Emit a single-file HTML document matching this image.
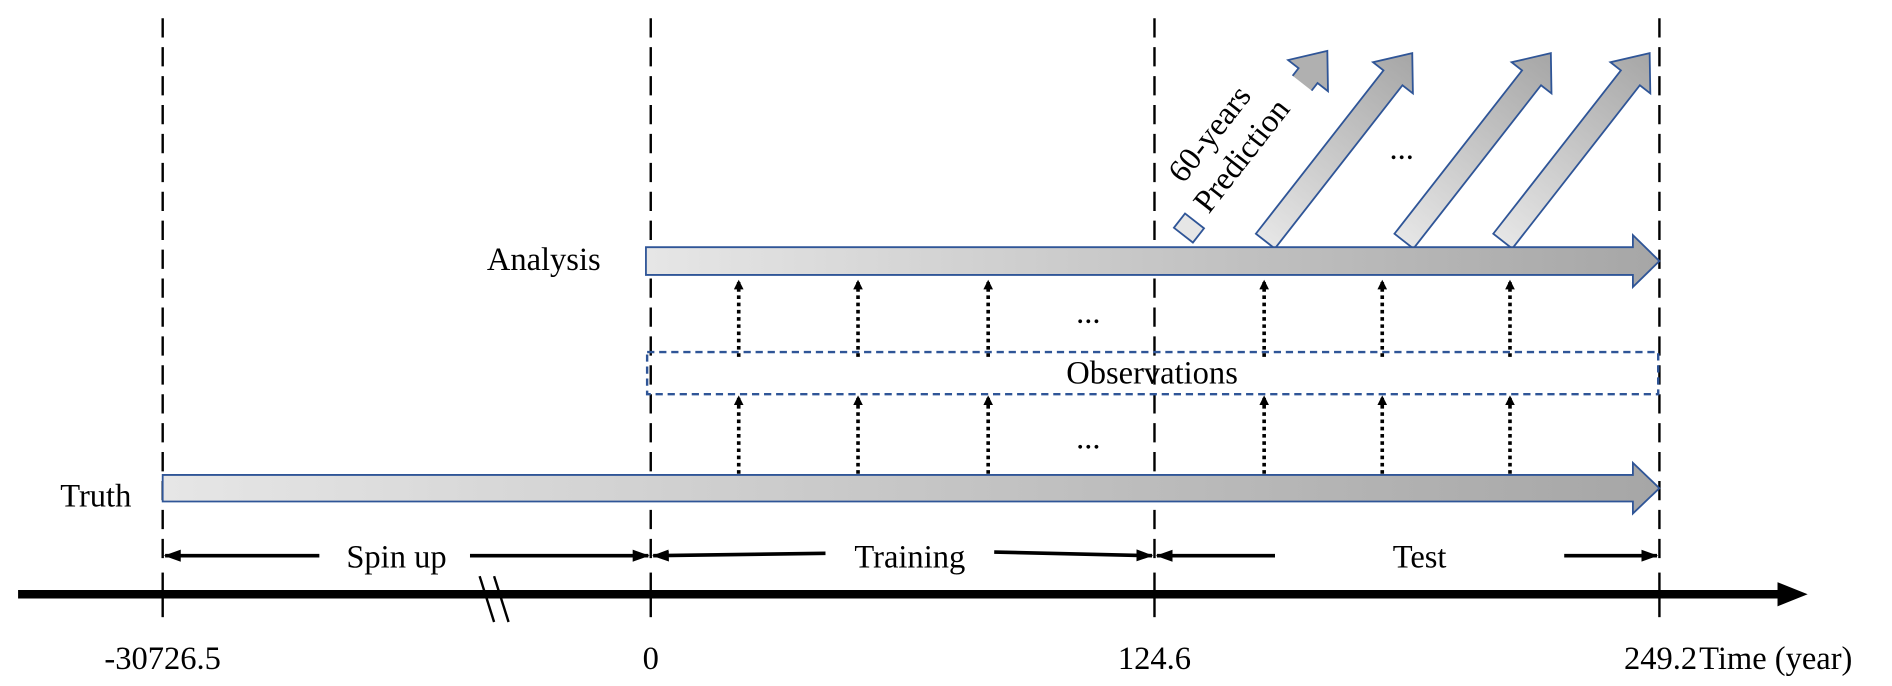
<!DOCTYPE html>
<html><head><style>html,body{margin:0;padding:0;background:#fff}svg{display:block}</style></head>
<body>
<svg width="1892" height="686" viewBox="0 0 1570 569" xmlns="http://www.w3.org/2000/svg" font-family="Liberation Serif, serif">
<defs>
<linearGradient id="g" x1="0" x2="1" y1="0" y2="0"><stop offset="0" stop-color="#e6e6e6"/><stop offset="1" stop-color="#a6a6a6"/></linearGradient>
<marker id="ah" markerWidth="8" markerHeight="8" refX="6" refY="4" orient="auto" markerUnits="userSpaceOnUse"><path d="M0,0 L8,4 L0,8 Z" fill="#000"/></marker>
<marker id="dm" markerWidth="14" markerHeight="12" refX="13" refY="6" orient="auto-start-reverse" markerUnits="userSpaceOnUse"><path d="M0,1 L14,6 L0,11 Z" fill="#000"/></marker>
</defs>
<g stroke="#000" stroke-width="2" stroke-dasharray="16,8">
<line x1="135" y1="15" x2="135" y2="470"/><line x1="540" y1="15" x2="540" y2="470"/>
<line x1="958" y1="15" x2="958" y2="470"/><line x1="1377" y1="15" x2="1377" y2="470"/>
</g>
<g stroke="#2f5597" stroke-width="1.5" fill="url(#g)">
<g transform="translate(1050,200) rotate(-52)"><path d="M0,-10 L172,-10 L172,-21 L198,0 L172,21 L172,10 L0,10 Z"/></g>
<g transform="translate(1165,200) rotate(-52)"><path d="M0,-10 L172,-10 L172,-21 L198,0 L172,21 L172,10 L0,10 Z"/></g>
<g transform="translate(1247,200) rotate(-52)"><path d="M0,-10 L172,-10 L172,-21 L198,0 L172,21 L172,10 L0,10 Z"/></g>
<g transform="translate(982,195) rotate(-52)"><path d="M0,-10 L15,-10 L15,10 L0,10 Z" fill="#e6e6e6"/><path d="M160,-10 L168,-10 L168,-21 L194,0 L168,21 L168,10 L160,10" fill="#b0b0b0"/></g>
</g>
<text transform="translate(982,153) rotate(-52)" font-size="27">60-years</text>
<text transform="translate(1003,178) rotate(-52)" font-size="27">Prediction</text>
<text x="1153" y="132" font-size="27">...</text>
<path d="M536,205 L1355,205 L1355,195 L1377,216.5 L1355,238 L1355,228 L536,228 Z" fill="url(#g)" stroke="#2f5597" stroke-width="1.5"/>
<text x="404" y="224" font-size="27">Analysis</text>
<path d="M135,394 L1355,394 L1355,384 L1377,405 L1355,426 L1355,416 L135,416 Z" fill="url(#g)" stroke="#2f5597" stroke-width="1.5"/>
<text x="50" y="420" font-size="27">Truth</text>
<rect x="537" y="292" width="839" height="35" fill="none" stroke="#2f5597" stroke-width="2" stroke-dasharray="6,4"/>
<text x="956" y="318" font-size="27" text-anchor="middle">Observations</text>
<g stroke="#000" stroke-width="3" stroke-dasharray="3,3" marker-end="url(#ah)">
<line x1="613" y1="296" x2="613" y2="234"/><line x1="712" y1="296" x2="712" y2="234"/><line x1="820" y1="296" x2="820" y2="234"/>
<line x1="1049" y1="296" x2="1049" y2="234"/><line x1="1147" y1="296" x2="1147" y2="234"/><line x1="1253" y1="296" x2="1253" y2="234"/>
<line x1="613" y1="393" x2="613" y2="330"/><line x1="712" y1="393" x2="712" y2="330"/><line x1="820" y1="393" x2="820" y2="330"/>
<line x1="1049" y1="393" x2="1049" y2="330"/><line x1="1147" y1="393" x2="1147" y2="330"/><line x1="1253" y1="393" x2="1253" y2="330"/>
</g>
<text x="893" y="268" font-size="27">...</text>
<text x="893" y="372" font-size="27">...</text>
<g stroke="#000" stroke-width="3">
<line x1="137" y1="461" x2="265" y2="461" marker-start="url(#dm)"/>
<line x1="390" y1="461" x2="538" y2="461" marker-end="url(#dm)"/>
<line x1="542" y1="461" x2="685" y2="459" marker-start="url(#dm)"/>
<line x1="825" y1="458" x2="956" y2="461" marker-end="url(#dm)"/>
<line x1="960" y1="461" x2="1058" y2="461" marker-start="url(#dm)"/>
<line x1="1298" y1="461" x2="1375" y2="461" marker-end="url(#dm)"/>
</g>
<text x="329" y="471" font-size="27" text-anchor="middle">Spin up</text>
<text x="755" y="471" font-size="27" text-anchor="middle">Training</text>
<text x="1178" y="471" font-size="27" text-anchor="middle">Test</text>
<line x1="15" y1="493" x2="1480" y2="493" stroke="#000" stroke-width="7"/>
<path d="M1475,483 L1500,493 L1475,503 Z" fill="#000"/>
<g stroke="#000" stroke-width="2">
<line x1="135" y1="475" x2="135" y2="512"/><line x1="540" y1="475" x2="540" y2="512"/>
<line x1="958" y1="475" x2="958" y2="512"/><line x1="1377" y1="475" x2="1377" y2="512"/>
<line x1="398" y1="478" x2="410" y2="516"/><line x1="410" y1="478" x2="422" y2="516"/>
</g>
<g font-size="27" text-anchor="middle">
<text x="135" y="555">-30726.5</text><text x="540" y="555">0</text><text x="958" y="555">124.6</text><text x="1378" y="555">249.2</text>
</g>
<text x="1410" y="555" font-size="27">Time (year)</text>
</svg>
</body></html>
